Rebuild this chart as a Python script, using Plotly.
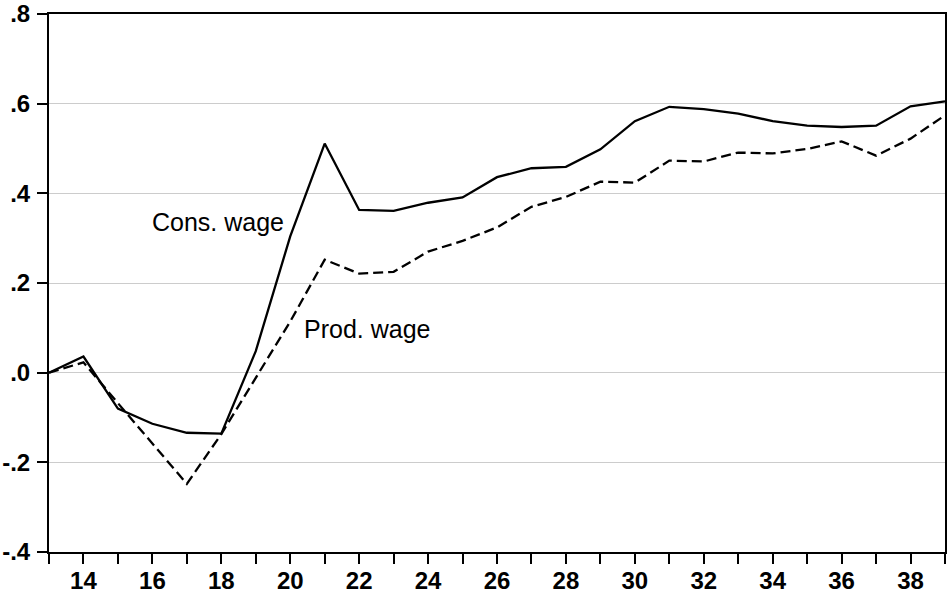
import plotly.graph_objects as go

years = list(range(13, 40))
cons_wage = [0.0, 0.036, -0.080, -0.114, -0.134, -0.136, 0.048, 0.304, 0.511, 0.363,
             0.361, 0.379, 0.391, 0.436, 0.456, 0.459, 0.498, 0.561, 0.593, 0.588,
             0.578, 0.561, 0.551, 0.548, 0.551, 0.594, 0.605]
prod_wage = [0.0, 0.023, -0.068, -0.158, -0.248, -0.137, -0.010, 0.114, 0.252, 0.221,
             0.225, 0.270, 0.294, 0.324, 0.370, 0.392, 0.426, 0.424, 0.473, 0.471,
             0.491, 0.489, 0.499, 0.516, 0.484, 0.522, 0.574]

y_tickvals = [-0.4, -0.2, 0.0, 0.2, 0.4, 0.6, 0.8]
y_ticktext = ["-.4", "-.2", ".0", ".2", ".4", ".6", ".8"]
x_tickvals = years
x_ticktext = [str(y) if y % 2 == 0 else "" for y in years]

labels = [("Cons. wage", 15.93, 0.337), ("Prod. wage", 20.34, 0.098)]

FONT = "Liberation Sans, Arial, sans-serif"

fig = go.Figure()
fig.add_trace(go.Scatter(x=years, y=cons_wage, mode="lines",
                         line=dict(color="black", width=2.3), name="Cons. wage"))
fig.add_trace(go.Scatter(x=years, y=prod_wage, mode="lines",
                         line=dict(color="black", width=2.3, dash="10px,5px"), name="Prod. wage"))

for text, x, y in labels:
    fig.add_annotation(x=x, y=y, text=text, showarrow=False, xanchor="left", yanchor="middle",
                       font=dict(family=FONT, size=25, color="black"))

fig.update_layout(
    width=947, height=596,
    margin=dict(l=49, r=2, t=14, b=44, autoexpand=False),
    paper_bgcolor="white", plot_bgcolor="white",
    showlegend=False,
    font=dict(family=FONT, color="black"),
)
fig.update_xaxes(range=[13, 39], tickvals=x_tickvals, ticktext=x_ticktext,
                 showgrid=False, zeroline=False, automargin=False,
                 showline=True, linecolor="black", linewidth=2, mirror=True,
                 ticks="outside", ticklen=10, tickwidth=1.5, tickcolor="black",
                 ticklabelstandoff=-4,
                 tickfont=dict(family=FONT, size=24, color="black", weight="bold"))
fig.update_yaxes(range=[-0.4, 0.8], tickvals=y_tickvals, ticktext=y_ticktext,
                 showgrid=True, gridcolor="#cccccc", gridwidth=1, zeroline=False, automargin=False,
                 showline=True, linecolor="black", linewidth=2, mirror=True,
                 ticks="outside", ticklen=10, tickwidth=1.5, tickcolor="black",
                 ticklabelstandoff=2,
                 tickfont=dict(family=FONT, size=24, color="black", weight="bold"))

fig.write_html("out.html", config={"displayModeBar": False},
               post_script="document.body.style.margin='0';document.body.style.padding='0';")
